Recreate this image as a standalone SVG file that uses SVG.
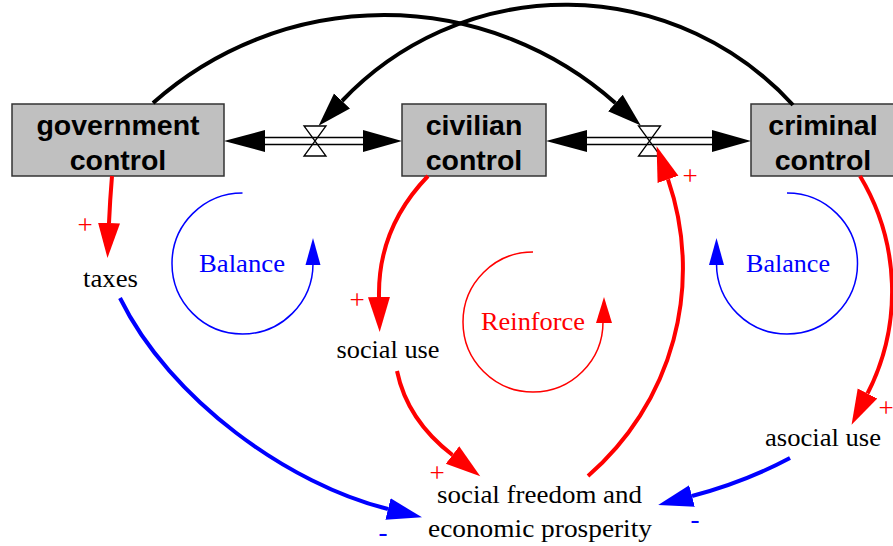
<svg xmlns="http://www.w3.org/2000/svg" width="893" height="546" viewBox="0 0 893 546">
<style>
.box{fill:#c0c0c0;stroke:#333;stroke-width:1.5}
.bt{font-family:"Liberation Sans",Arial,sans-serif;font-weight:bold;font-size:28.5px;fill:#000;text-anchor:middle}
.lbl{font-family:"Liberation Serif","Times New Roman",serif;font-size:26px;text-anchor:middle}
.sign{font-family:"Liberation Serif","Times New Roman",serif;font-size:27px;text-anchor:middle}
.pipe{stroke:#000;stroke-width:1.5;fill:none}
.valve{stroke:#000;stroke-width:1.3;fill:none}
.k{stroke:#000;stroke-width:4;fill:none}
.r{stroke:#f00;stroke-width:4;fill:none}
.b{stroke:#00f;stroke-width:4;fill:none}
.loopb{stroke:#00f;stroke-width:1.5;fill:none}
.loopr{stroke:#f00;stroke-width:1.5;fill:none}
</style>
<defs>
<marker id="ak" markerUnits="userSpaceOnUse" viewBox="0 -12 40 24" markerWidth="40" markerHeight="24" refX="0" refY="0" orient="auto"><path d="M0,-11 L34,0 L0,11 Z" fill="#000"/></marker>
<marker id="ar" markerUnits="userSpaceOnUse" viewBox="0 -12 40 24" markerWidth="40" markerHeight="24" refX="0" refY="0" orient="auto"><path d="M0,-11 L35,0 L0,11 Z" fill="#f00"/></marker>
<marker id="ab" markerUnits="userSpaceOnUse" viewBox="0 -12 40 24" markerWidth="40" markerHeight="24" refX="0" refY="0" orient="auto"><path d="M0,-11 L35,0 L0,11 Z" fill="#00f"/></marker>
</defs>

<g id="flows">
<line class="pipe" x1="265" y1="137.5" x2="363" y2="137.5"/>
<line class="pipe" x1="265" y1="144.5" x2="363" y2="144.5"/>
<polygon points="224,141 265,130 265,152" fill="#000"/>
<polygon points="402,141 363,130 363,152" fill="#000"/>
<path class="valve" d="M304,126 L326,126 L304,156 L326,156 Z"/>
<line class="pipe" x1="587" y1="137.5" x2="712" y2="137.5"/>
<line class="pipe" x1="587" y1="144.5" x2="712" y2="144.5"/>
<polygon points="546,141 587,130 587,152" fill="#000"/>
<polygon points="751,141 712,130 712,152" fill="#000"/>
<path class="valve" d="M638.5,126 L660.5,126 L638.5,156 L660.5,156 Z"/>
</g>

<g id="gov"><rect class="box" x="12" y="104" width="212" height="72"/><text class="bt" x="118" y="135">government</text><text class="bt" x="118" y="170">control</text></g>
<g id="civ"><rect class="box" x="402" y="104" width="144" height="72"/><text class="bt" x="474" y="135">civilian</text><text class="bt" x="474" y="170">control</text></g>
<g id="crim"><rect class="box" x="751" y="104" width="150" height="72"/><text class="bt" x="823" y="135">criminal</text><text class="bt" x="823" y="170">control</text></g>

<g id="taxes"><text class="lbl" x="110.5" y="287" textLength="55" lengthAdjust="spacingAndGlyphs">taxes</text></g>
<g id="socialuse"><text class="lbl" x="388" y="358" textLength="103" lengthAdjust="spacingAndGlyphs">social use</text></g>
<g id="asocialuse"><text class="lbl" x="823" y="446" textLength="116" lengthAdjust="spacingAndGlyphs">asocial use</text></g>
<g id="freedom"><text class="lbl" x="539.5" y="503" textLength="205" lengthAdjust="spacingAndGlyphs">social freedom and</text><text class="lbl" x="540" y="537" textLength="224" lengthAdjust="spacingAndGlyphs">economic prosperity</text></g>

<g id="loops">
<path class="loopb" d="M242.5,193 A70.5,70.5 0 1 0 313,263.5"/>
<polygon points="313,238 305.5,265 320.5,265" fill="#00f"/>
<text class="lbl" x="242" y="272" fill="#00f" textLength="86" lengthAdjust="spacingAndGlyphs">Balance</text>
<path class="loopr" d="M533,252 A70,70 0 1 0 603,322"/>
<polygon points="604,297 596,323 612,323" fill="#f00"/>
<text class="lbl" x="533" y="330" fill="#f00" textLength="104" lengthAdjust="spacingAndGlyphs">Reinforce</text>
<path class="loopb" d="M787,193 A70.5,70.5 0 1 1 716.5,263.5"/>
<polygon points="716.5,238 709,265 724,265" fill="#00f"/>
<text class="lbl" x="788" y="272" fill="#00f" textLength="84" lengthAdjust="spacingAndGlyphs">Balance</text>
</g>

<g id="connectors">
<path class="k" d="M153,103 A348,348 0 0 1 615.4,103" marker-end="url(#ak)"/>
<path class="k" d="M793,105 A308,308 0 0 0 342,101" marker-end="url(#ak)"/>
<path class="r" d="M112,176 Q110,200 109,223" marker-end="url(#ar)"/>
<path class="r" d="M428,176 C400,205 378,245 379,297" marker-end="url(#ar)"/>
<path class="b" d="M120,298 C170,400 290,485 388,509" marker-end="url(#ab)"/>
<path class="r" d="M397,371 C403,400 420,430 452.5,455" marker-end="url(#ar)"/>
<path class="r" d="M588,476 A274,274 0 0 0 668,179.4" marker-end="url(#ar)"/>
<path class="r" d="M860,176 A224,224 0 0 1 867.5,393.5" marker-end="url(#ar)"/>
<path class="b" d="M790,458 Q745,482 692,496" marker-end="url(#ab)"/>
<text class="sign" x="85" y="234" fill="#f00">+</text>
<text class="sign" x="357" y="309" fill="#f00">+</text>
<text class="sign" x="437" y="482" fill="#f00">+</text>
<text class="sign" x="690" y="185" fill="#f00">+</text>
<text class="sign" x="886" y="417" fill="#f00">+</text>
<text class="sign" x="383" y="541" fill="#00f">-</text>
<text class="sign" x="695" y="528" fill="#00f">-</text>
</g>
</svg>
